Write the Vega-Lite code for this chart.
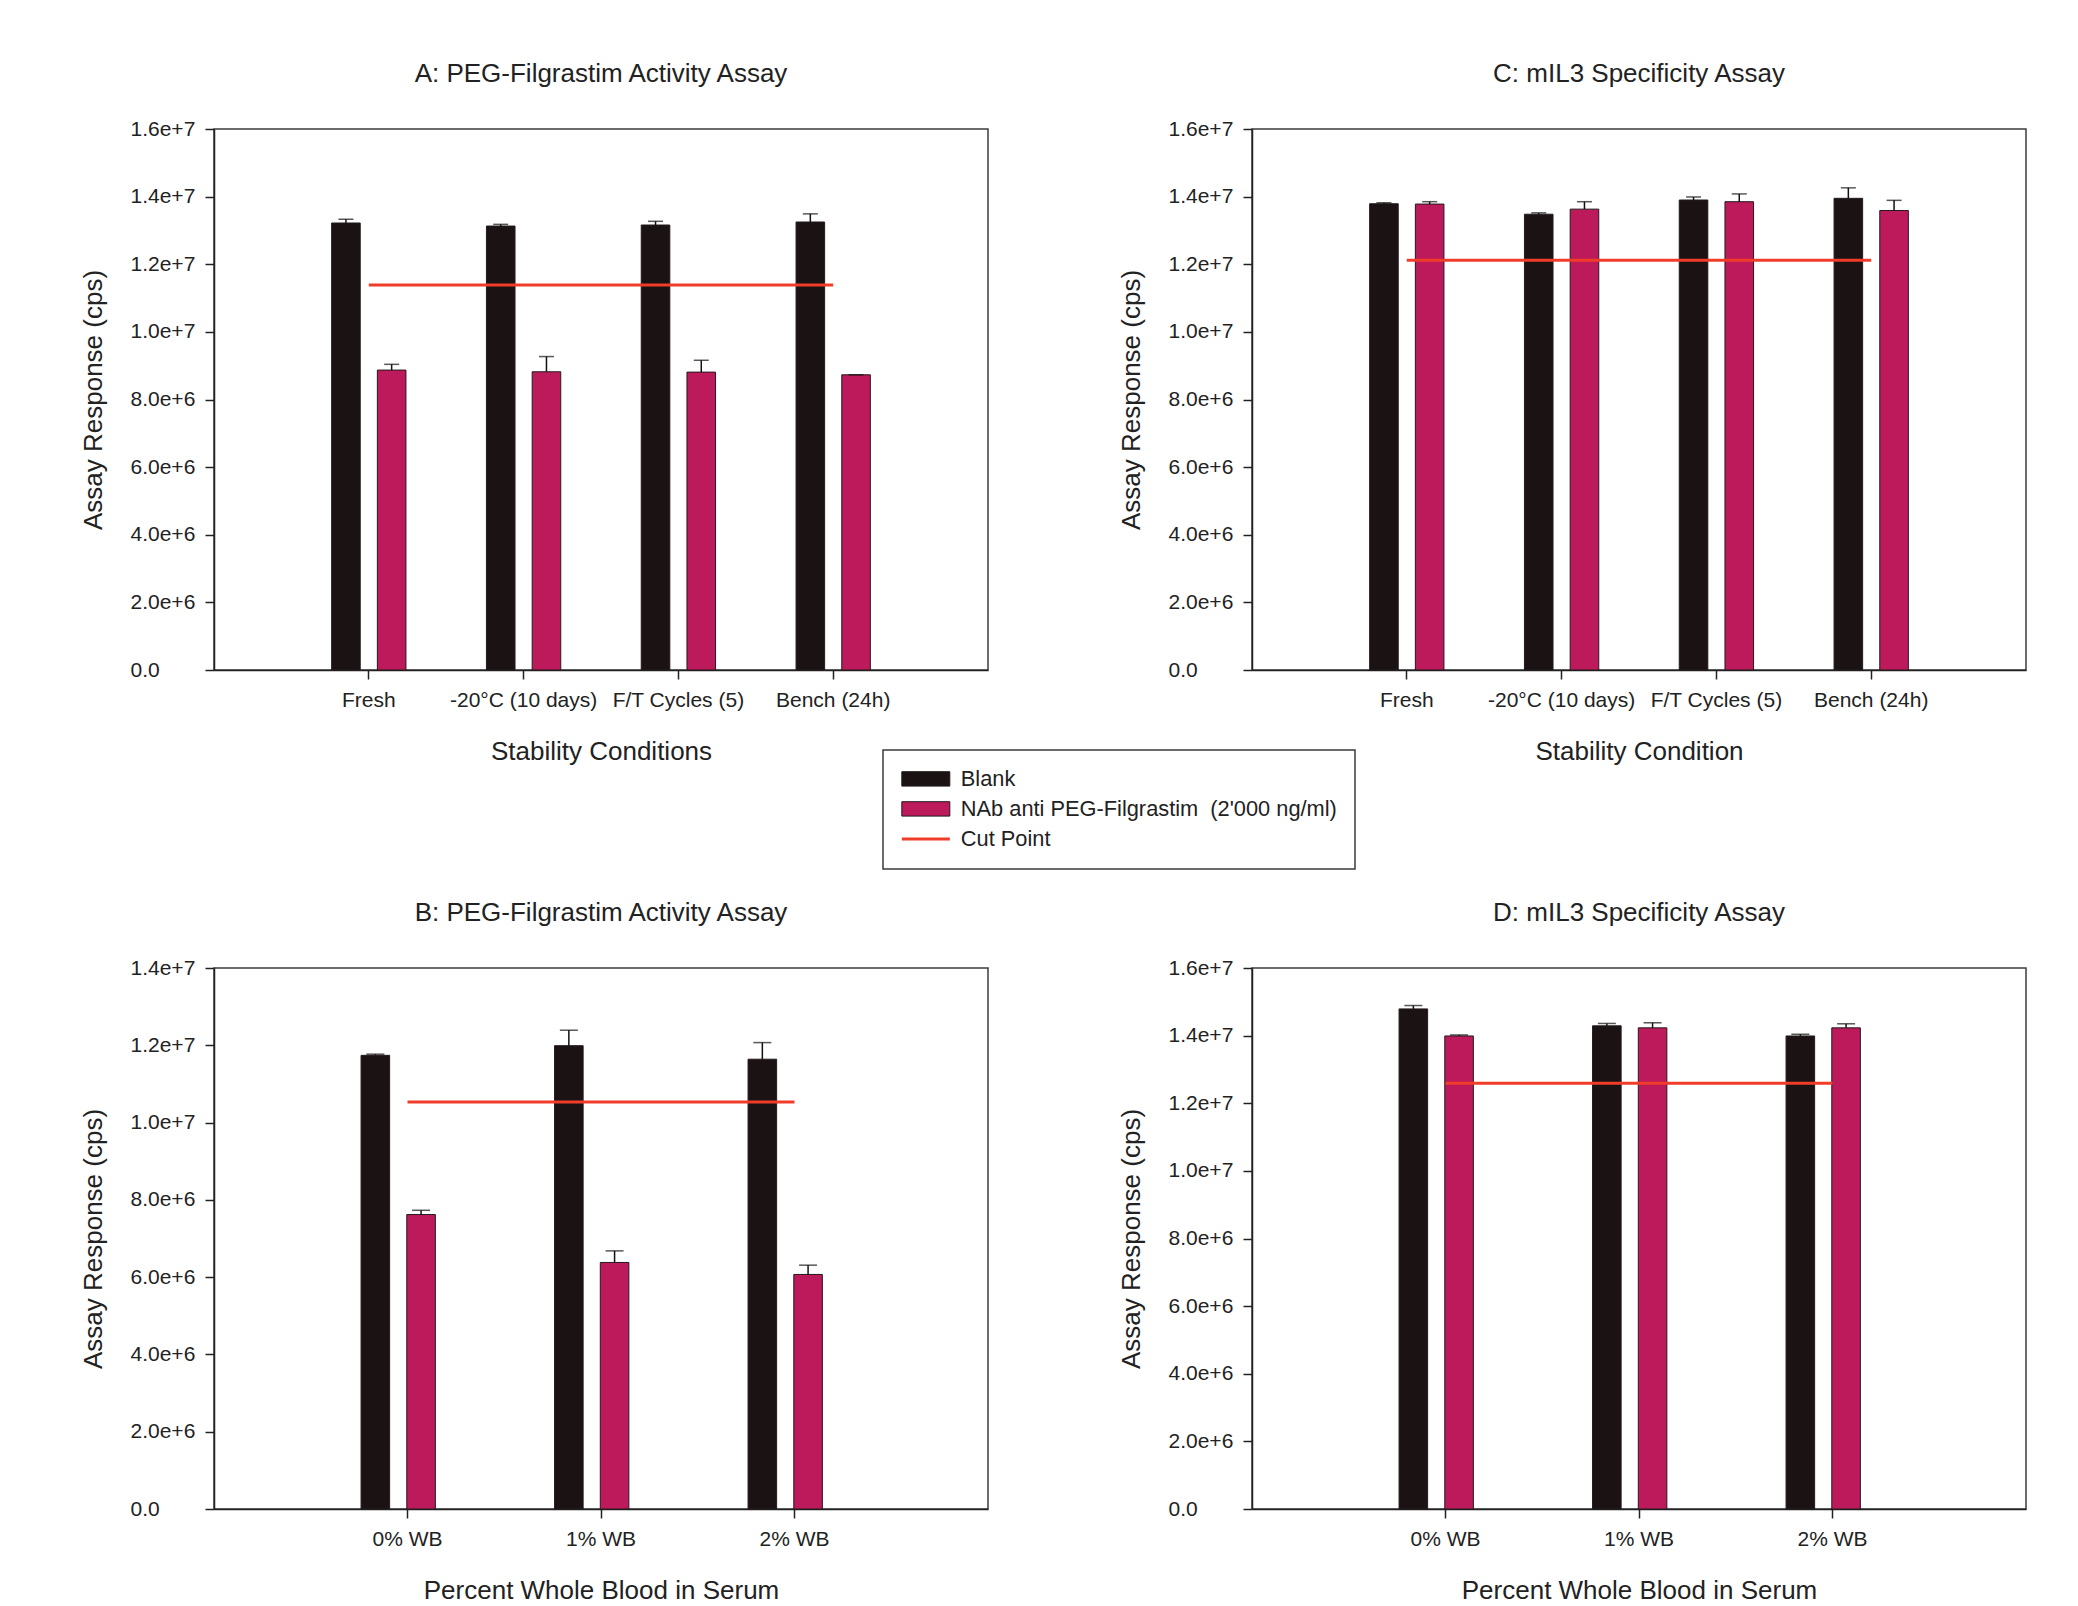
{
  "$schema": "https://vega.github.io/schema/vega-lite/v6.json",
  "background": "white",
  "padding": {"left": 79, "top": 60, "right": 20, "bottom": 5},
  "bounds": "flush",
  "columns": 2,
  "spacing": {"row": 298, "column": 264},
  "datasets": {
    "bars": [
      {"panel": "A", "cond": "Fresh", "series": "Blank", "value": 13220000, "hi": 13330000},
      {"panel": "A", "cond": "-20°C (10 days)", "series": "Blank", "value": 13130000, "hi": 13180000},
      {"panel": "A", "cond": "F/T Cycles (5)", "series": "Blank", "value": 13160000, "hi": 13270000},
      {"panel": "A", "cond": "Bench (24h)", "series": "Blank", "value": 13250000, "hi": 13490000},
      {"panel": "A", "cond": "Fresh", "series": "NAb anti PEG-Filgrastim \u00a0(2'000 ng/ml)", "value": 8870000, "hi": 9040000},
      {"panel": "A", "cond": "-20°C (10 days)", "series": "NAb anti PEG-Filgrastim \u00a0(2'000 ng/ml)", "value": 8820000, "hi": 9270000},
      {"panel": "A", "cond": "F/T Cycles (5)", "series": "NAb anti PEG-Filgrastim \u00a0(2'000 ng/ml)", "value": 8810000, "hi": 9160000},
      {"panel": "A", "cond": "Bench (24h)", "series": "NAb anti PEG-Filgrastim \u00a0(2'000 ng/ml)", "value": 8730000, "hi": 8730000},
      {"panel": "C", "cond": "Fresh", "series": "Blank", "value": 13790000, "hi": 13820000},
      {"panel": "C", "cond": "-20°C (10 days)", "series": "Blank", "value": 13480000, "hi": 13520000},
      {"panel": "C", "cond": "F/T Cycles (5)", "series": "Blank", "value": 13900000, "hi": 13990000},
      {"panel": "C", "cond": "Bench (24h)", "series": "Blank", "value": 13950000, "hi": 14260000},
      {"panel": "C", "cond": "Fresh", "series": "NAb anti PEG-Filgrastim \u00a0(2'000 ng/ml)", "value": 13780000, "hi": 13850000},
      {"panel": "C", "cond": "-20°C (10 days)", "series": "NAb anti PEG-Filgrastim \u00a0(2'000 ng/ml)", "value": 13630000, "hi": 13850000},
      {"panel": "C", "cond": "F/T Cycles (5)", "series": "NAb anti PEG-Filgrastim \u00a0(2'000 ng/ml)", "value": 13850000, "hi": 14080000},
      {"panel": "C", "cond": "Bench (24h)", "series": "NAb anti PEG-Filgrastim \u00a0(2'000 ng/ml)", "value": 13590000, "hi": 13890000},
      {"panel": "B", "cond": "0% WB", "series": "Blank", "value": 11740000, "hi": 11770000},
      {"panel": "B", "cond": "1% WB", "series": "Blank", "value": 11990000, "hi": 12390000},
      {"panel": "B", "cond": "2% WB", "series": "Blank", "value": 11640000, "hi": 12070000},
      {"panel": "B", "cond": "0% WB", "series": "NAb anti PEG-Filgrastim \u00a0(2'000 ng/ml)", "value": 7620000, "hi": 7730000},
      {"panel": "B", "cond": "1% WB", "series": "NAb anti PEG-Filgrastim \u00a0(2'000 ng/ml)", "value": 6380000, "hi": 6680000},
      {"panel": "B", "cond": "2% WB", "series": "NAb anti PEG-Filgrastim \u00a0(2'000 ng/ml)", "value": 6070000, "hi": 6310000},
      {"panel": "D", "cond": "0% WB", "series": "Blank", "value": 14790000, "hi": 14890000},
      {"panel": "D", "cond": "1% WB", "series": "Blank", "value": 14290000, "hi": 14360000},
      {"panel": "D", "cond": "2% WB", "series": "Blank", "value": 13990000, "hi": 14040000},
      {"panel": "D", "cond": "0% WB", "series": "NAb anti PEG-Filgrastim \u00a0(2'000 ng/ml)", "value": 13990000, "hi": 14020000},
      {"panel": "D", "cond": "1% WB", "series": "NAb anti PEG-Filgrastim \u00a0(2'000 ng/ml)", "value": 14230000, "hi": 14380000},
      {"panel": "D", "cond": "2% WB", "series": "NAb anti PEG-Filgrastim \u00a0(2'000 ng/ml)", "value": 14230000, "hi": 14350000}
    ],
    "cuts": [
      {"panel": "A", "cond": "Fresh", "cut": 11390000},
      {"panel": "A", "cond": "Bench (24h)", "cut": 11390000},
      {"panel": "C", "cond": "Fresh", "cut": 12120000},
      {"panel": "C", "cond": "Bench (24h)", "cut": 12120000},
      {"panel": "B", "cond": "0% WB", "cut": 10530000},
      {"panel": "B", "cond": "2% WB", "cut": 10530000},
      {"panel": "D", "cond": "0% WB", "cut": 12590000},
      {"panel": "D", "cond": "2% WB", "cut": 12590000}
    ]
  },
  "concat": [
    {
      "title": "A: PEG-Filgrastim Activity Assay",
      "width": 774, "height": 541,
      "layer": [
        {
          "data": {"name": "bars"},
          "transform": [{"filter": "datum.panel == 'A'"}],
          "mark": {"type": "bar", "stroke": "#231a1c", "strokeWidth": 1},
          "encoding": {
            "x": {"field": "cond", "type": "nominal", "title": "Stability Conditions",
                  "scale": {"domain": ["Fresh", "-20°C (10 days)", "F/T Cycles (5)", "Bench (24h)"], "paddingInner": 0.52, "paddingOuter": 0.76}},
            "xOffset": {"field": "series", "type": "nominal", "scale": {"domain": ["Blank", "NAb anti PEG-Filgrastim \u00a0(2'000 ng/ml)"], "paddingInner": 0.375, "paddingOuter": 0}},
            "y": {"field": "value", "type": "quantitative", "title": "Assay Response (cps)",
                  "scale": {"domain": [0, 16000000], "nice": false},
                  "axis": {"values": [0, 2000000, 4000000, 6000000, 8000000, 10000000, 12000000, 14000000, 16000000], "labelExpr": "datum.value == 0 ? '0.0' : format(datum.value, '.1e')"}},
            "color": {"field": "series", "type": "nominal",
                      "scale": {"domain": ["Blank", "NAb anti PEG-Filgrastim \u00a0(2'000 ng/ml)", "Cut Point"], "range": ["#1a1213", "#bd1a5b", "#f03c28"]},
                      "legend": {"title": null,
                        "symbolType": {"expr": "datum.value == 'Cut Point' ? 'M-0.42,0H1.58' : 'M-0.42,-0.3H1.58V0.3H-0.42Z'"},
                        "symbolStrokeColor": {"expr": "datum.value == 'Cut Point' ? '#f03c28' : '#231a1c'"},
                        "symbolStrokeWidth": {"expr": "datum.value == 'Cut Point' ? 3 : 1"}}}
          }
        },
        {
          "data": {"name": "bars"},
          "transform": [{"filter": "datum.panel == 'A'"}],
          "mark": {"type": "rule", "color": "#111", "strokeWidth": 1.5},
          "encoding": {
            "x": {"field": "cond", "type": "nominal", "title": "Stability Conditions"},
            "xOffset": {"field": "series", "type": "nominal"},
            "y": {"field": "value", "type": "quantitative", "title": "Assay Response (cps)"},
            "y2": {"field": "hi"}
          }
        },
        {
          "data": {"name": "bars"},
          "transform": [{"filter": "datum.panel == 'A'"}],
          "mark": {"type": "tick", "color": "#111", "thickness": 1.5, "size": 15, "orient": "horizontal"},
          "encoding": {
            "x": {"field": "cond", "type": "nominal", "title": "Stability Conditions"},
            "xOffset": {"field": "series", "type": "nominal"},
            "y": {"field": "hi", "type": "quantitative", "title": "Assay Response (cps)"}
          }
        },
        {
          "data": {"name": "cuts"},
          "transform": [{"filter": "datum.panel == 'A'"}],
          "mark": {"type": "line", "color": "#f03c28", "strokeWidth": 3},
          "encoding": {
            "x": {"field": "cond", "type": "nominal", "title": "Stability Conditions"},
            "y": {"field": "cut", "type": "quantitative", "title": "Assay Response (cps)"}
          }
        }
      ]
    },
    {
      "title": "C: mIL3 Specificity Assay",
      "width": 774, "height": 541,
      "layer": [
        {
          "data": {"name": "bars"},
          "transform": [{"filter": "datum.panel == 'C'"}],
          "mark": {"type": "bar", "stroke": "#231a1c", "strokeWidth": 1},
          "encoding": {
            "x": {"field": "cond", "type": "nominal", "title": "Stability Condition",
                  "scale": {"domain": ["Fresh", "-20°C (10 days)", "F/T Cycles (5)", "Bench (24h)"], "paddingInner": 0.52, "paddingOuter": 0.76}},
            "xOffset": {"field": "series", "type": "nominal", "scale": {"domain": ["Blank", "NAb anti PEG-Filgrastim \u00a0(2'000 ng/ml)"], "paddingInner": 0.375, "paddingOuter": 0}},
            "y": {"field": "value", "type": "quantitative", "title": "Assay Response (cps)",
                  "scale": {"domain": [0, 16000000], "nice": false},
                  "axis": {"values": [0, 2000000, 4000000, 6000000, 8000000, 10000000, 12000000, 14000000, 16000000], "labelExpr": "datum.value == 0 ? '0.0' : format(datum.value, '.1e')"}},
            "color": {"field": "series", "type": "nominal",
                      "scale": {"domain": ["Blank", "NAb anti PEG-Filgrastim \u00a0(2'000 ng/ml)", "Cut Point"], "range": ["#1a1213", "#bd1a5b", "#f03c28"]},
                      "legend": {"title": null,
                        "symbolType": {"expr": "datum.value == 'Cut Point' ? 'M-0.42,0H1.58' : 'M-0.42,-0.3H1.58V0.3H-0.42Z'"},
                        "symbolStrokeColor": {"expr": "datum.value == 'Cut Point' ? '#f03c28' : '#231a1c'"},
                        "symbolStrokeWidth": {"expr": "datum.value == 'Cut Point' ? 3 : 1"}}}
          }
        },
        {
          "data": {"name": "bars"},
          "transform": [{"filter": "datum.panel == 'C'"}],
          "mark": {"type": "rule", "color": "#111", "strokeWidth": 1.5},
          "encoding": {
            "x": {"field": "cond", "type": "nominal", "title": "Stability Condition"},
            "xOffset": {"field": "series", "type": "nominal"},
            "y": {"field": "value", "type": "quantitative", "title": "Assay Response (cps)"},
            "y2": {"field": "hi"}
          }
        },
        {
          "data": {"name": "bars"},
          "transform": [{"filter": "datum.panel == 'C'"}],
          "mark": {"type": "tick", "color": "#111", "thickness": 1.5, "size": 15, "orient": "horizontal"},
          "encoding": {
            "x": {"field": "cond", "type": "nominal", "title": "Stability Condition"},
            "xOffset": {"field": "series", "type": "nominal"},
            "y": {"field": "hi", "type": "quantitative", "title": "Assay Response (cps)"}
          }
        },
        {
          "data": {"name": "cuts"},
          "transform": [{"filter": "datum.panel == 'C'"}],
          "mark": {"type": "line", "color": "#f03c28", "strokeWidth": 3},
          "encoding": {
            "x": {"field": "cond", "type": "nominal", "title": "Stability Condition"},
            "y": {"field": "cut", "type": "quantitative", "title": "Assay Response (cps)"}
          }
        }
      ]
    },
    {
      "title": "B: PEG-Filgrastim Activity Assay",
      "width": 774, "height": 541,
      "layer": [
        {
          "data": {"name": "bars"},
          "transform": [{"filter": "datum.panel == 'B'"}],
          "mark": {"type": "bar", "stroke": "#231a1c", "strokeWidth": 1},
          "encoding": {
            "x": {"field": "cond", "type": "nominal", "title": "Percent Whole Blood in Serum",
                  "scale": {"domain": ["0% WB", "1% WB", "2% WB"], "paddingInner": 0.52, "paddingOuter": 0.76}},
            "xOffset": {"field": "series", "type": "nominal", "scale": {"domain": ["Blank", "NAb anti PEG-Filgrastim \u00a0(2'000 ng/ml)"], "paddingInner": 0.375, "paddingOuter": 0}},
            "y": {"field": "value", "type": "quantitative", "title": "Assay Response (cps)",
                  "scale": {"domain": [0, 14000000], "nice": false},
                  "axis": {"values": [0, 2000000, 4000000, 6000000, 8000000, 10000000, 12000000, 14000000], "labelExpr": "datum.value == 0 ? '0.0' : format(datum.value, '.1e')"}},
            "color": {"field": "series", "type": "nominal",
                      "scale": {"domain": ["Blank", "NAb anti PEG-Filgrastim \u00a0(2'000 ng/ml)", "Cut Point"], "range": ["#1a1213", "#bd1a5b", "#f03c28"]},
                      "legend": {"title": null,
                        "symbolType": {"expr": "datum.value == 'Cut Point' ? 'M-0.42,0H1.58' : 'M-0.42,-0.3H1.58V0.3H-0.42Z'"},
                        "symbolStrokeColor": {"expr": "datum.value == 'Cut Point' ? '#f03c28' : '#231a1c'"},
                        "symbolStrokeWidth": {"expr": "datum.value == 'Cut Point' ? 3 : 1"}}}
          }
        },
        {
          "data": {"name": "bars"},
          "transform": [{"filter": "datum.panel == 'B'"}],
          "mark": {"type": "rule", "color": "#111", "strokeWidth": 1.5},
          "encoding": {
            "x": {"field": "cond", "type": "nominal", "title": "Percent Whole Blood in Serum"},
            "xOffset": {"field": "series", "type": "nominal"},
            "y": {"field": "value", "type": "quantitative", "title": "Assay Response (cps)"},
            "y2": {"field": "hi"}
          }
        },
        {
          "data": {"name": "bars"},
          "transform": [{"filter": "datum.panel == 'B'"}],
          "mark": {"type": "tick", "color": "#111", "thickness": 1.5, "size": 18, "orient": "horizontal"},
          "encoding": {
            "x": {"field": "cond", "type": "nominal", "title": "Percent Whole Blood in Serum"},
            "xOffset": {"field": "series", "type": "nominal"},
            "y": {"field": "hi", "type": "quantitative", "title": "Assay Response (cps)"}
          }
        },
        {
          "data": {"name": "cuts"},
          "transform": [{"filter": "datum.panel == 'B'"}],
          "mark": {"type": "line", "color": "#f03c28", "strokeWidth": 3},
          "encoding": {
            "x": {"field": "cond", "type": "nominal", "title": "Percent Whole Blood in Serum"},
            "y": {"field": "cut", "type": "quantitative", "title": "Assay Response (cps)"}
          }
        }
      ]
    },
    {
      "title": "D: mIL3 Specificity Assay",
      "width": 774, "height": 541,
      "layer": [
        {
          "data": {"name": "bars"},
          "transform": [{"filter": "datum.panel == 'D'"}],
          "mark": {"type": "bar", "stroke": "#231a1c", "strokeWidth": 1},
          "encoding": {
            "x": {"field": "cond", "type": "nominal", "title": "Percent Whole Blood in Serum",
                  "scale": {"domain": ["0% WB", "1% WB", "2% WB"], "paddingInner": 0.52, "paddingOuter": 0.76}},
            "xOffset": {"field": "series", "type": "nominal", "scale": {"domain": ["Blank", "NAb anti PEG-Filgrastim \u00a0(2'000 ng/ml)"], "paddingInner": 0.375, "paddingOuter": 0}},
            "y": {"field": "value", "type": "quantitative", "title": "Assay Response (cps)",
                  "scale": {"domain": [0, 16000000], "nice": false},
                  "axis": {"values": [0, 2000000, 4000000, 6000000, 8000000, 10000000, 12000000, 14000000, 16000000], "labelExpr": "datum.value == 0 ? '0.0' : format(datum.value, '.1e')"}},
            "color": {"field": "series", "type": "nominal",
                      "scale": {"domain": ["Blank", "NAb anti PEG-Filgrastim \u00a0(2'000 ng/ml)", "Cut Point"], "range": ["#1a1213", "#bd1a5b", "#f03c28"]},
                      "legend": {"title": null,
                        "symbolType": {"expr": "datum.value == 'Cut Point' ? 'M-0.42,0H1.58' : 'M-0.42,-0.3H1.58V0.3H-0.42Z'"},
                        "symbolStrokeColor": {"expr": "datum.value == 'Cut Point' ? '#f03c28' : '#231a1c'"},
                        "symbolStrokeWidth": {"expr": "datum.value == 'Cut Point' ? 3 : 1"}}}
          }
        },
        {
          "data": {"name": "bars"},
          "transform": [{"filter": "datum.panel == 'D'"}],
          "mark": {"type": "rule", "color": "#111", "strokeWidth": 1.5},
          "encoding": {
            "x": {"field": "cond", "type": "nominal", "title": "Percent Whole Blood in Serum"},
            "xOffset": {"field": "series", "type": "nominal"},
            "y": {"field": "value", "type": "quantitative", "title": "Assay Response (cps)"},
            "y2": {"field": "hi"}
          }
        },
        {
          "data": {"name": "bars"},
          "transform": [{"filter": "datum.panel == 'D'"}],
          "mark": {"type": "tick", "color": "#111", "thickness": 1.5, "size": 18, "orient": "horizontal"},
          "encoding": {
            "x": {"field": "cond", "type": "nominal", "title": "Percent Whole Blood in Serum"},
            "xOffset": {"field": "series", "type": "nominal"},
            "y": {"field": "hi", "type": "quantitative", "title": "Assay Response (cps)"}
          }
        },
        {
          "data": {"name": "cuts"},
          "transform": [{"filter": "datum.panel == 'D'"}],
          "mark": {"type": "line", "color": "#f03c28", "strokeWidth": 3},
          "encoding": {
            "x": {"field": "cond", "type": "nominal", "title": "Percent Whole Blood in Serum"},
            "y": {"field": "cut", "type": "quantitative", "title": "Assay Response (cps)"}
          }
        }
      ]
    }
  ],
  "config": {
    "font": "Liberation Sans",
    "view": {"stroke": "#3c3c3c", "strokeWidth": 1.5},
    "title": {"fontSize": 26, "fontWeight": "normal", "color": "#222", "offset": 31, "anchor": "middle"},
    "axis": {"labelFontSize": 21, "labelColor": "#222", "titleFontSize": 26, "titleFontWeight": "normal", "titleColor": "#222",
             "domainColor": "#222", "domainWidth": 1.5, "tickColor": "#222", "tickWidth": 1.5, "tickSize": 9, "grid": false, "labelOverlap": false},
    "axisY": {"labelAlign": "left", "labelPadding": 75, "labelFlush": false, "labelBaseline": "middle",
              "titleX": -121, "titleY": 270.5, "titleAlign": "center", "titleBaseline": "middle", "titleAngle": -90},
    "axisX": {"labelPadding": 10, "labelAngle": 0, "titleY": 81.5, "titleBaseline": "middle", "titleAlign": "center"},
    "legend": {"orient": "none", "legendX": 669, "legendY": 621, "symbolSize": 2304, "labelFontSize": 21.8, "labelColor": "#222",
               "labelOffset": 38, "rowPadding": 7, "padding": 18, "strokeColor": "#3a3a3a", "strokeWidth": 1.5, "labelLimit": 600}
  }
}
